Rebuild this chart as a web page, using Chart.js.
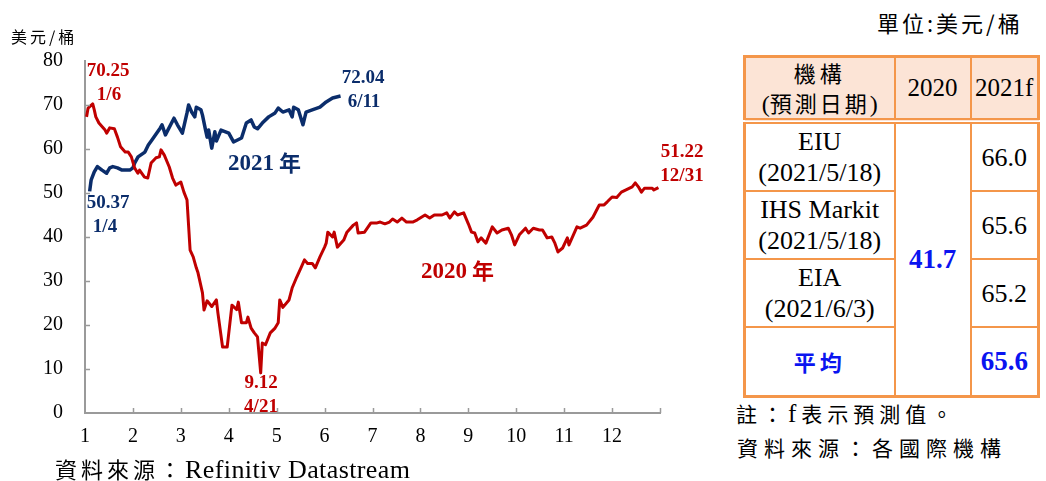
<!DOCTYPE html>
<html>
<head>
<meta charset="utf-8">
<script src="https://cdn.jsdelivr.net/npm/chart.js@4.4.1/dist/chart.umd.min.js"></script>
<style>
  html, body { margin: 0; padding: 0; background: #fff; }
  body { width: 1046px; height: 481px; position: relative; overflow: hidden; }
  #wrap { position: absolute; left: 0; top: 0; width: 720px; height: 481px; }
  .cjk { font-family: "Noto Sans CJK TC", "Noto Sans CJK SC", sans-serif; }
  #source { position: absolute; left: 55px; top: 453px; font-size: 22px; letter-spacing: 4px; white-space: nowrap; line-height: 30px; }
  #source span { font-family: "Liberation Serif", serif; font-size: 26px; letter-spacing: 0.4px; }
  #unit { position: absolute; left: 877px; top: 6px; font-size: 22px; letter-spacing: 3px; white-space: nowrap; }
  #note1 { position: absolute; left: 736px; top: 398px; font-size: 21px; letter-spacing: 5px; white-space: nowrap; }
  #note2 { position: absolute; left: 737px; top: 432px; font-size: 21px; letter-spacing: 6px; white-space: nowrap; }
  #note1 span { font-family: "Liberation Serif", serif; font-size: 25px; }
  table { position: absolute; left: 743px; top: 55px; border-collapse: collapse; border: 3px solid #F4964A; }
  td, th { border: 2px solid #F4964A; text-align: center; padding: 0; font-family: "Liberation Serif", serif; font-size: 26px; font-weight: normal; line-height: 31px; color: #000; }
  th { background: #FCE4D6; height: 56px; line-height: 28px; border-bottom: 6px double #F4964A; font-size: 25px; }
  tr.r td { height: 66px; }
  tr.avg td { height: 67px; }
  .blue { color: #0A14F0; font-weight: bold; }
</style>
</head>
<body>
<div id="wrap"><canvas id="chart" width="720" height="481"></canvas></div>
<div id="source" class="cjk">資料來源：<span>Refinitiv Datastream</span></div>
<div id="unit" class="cjk">單位:美元/桶</div>
<table>
  <colgroup><col style="width:150px"><col style="width:76px"><col style="width:68px"></colgroup>
  <tr><th><span class="cjk" style="font-size:22px;letter-spacing:4px">機構</span><br><span style="font-size:24px">(</span><span class="cjk" style="font-size:22px;letter-spacing:3px">預測日期</span><span style="font-size:24px">)</span></th><th>2020</th><th>2021f</th></tr>
  <tr class="r"><td>EIU<br>(2021/5/18)</td><td rowspan="4" class="blue" style="font-size:27px">41.7</td><td>66.0</td></tr>
  <tr class="r"><td>IHS Markit<br>(2021/5/18)</td><td>65.6</td></tr>
  <tr class="r"><td>EIA<br>(2021/6/3)</td><td>65.2</td></tr>
  <tr class="avg"><td class="blue cjk" style="font-size:22px;letter-spacing:4px">平均</td><td class="blue" style="font-size:27px">65.6</td></tr>
</table>
<div id="note1" class="cjk">註：<span>f</span>表示預測值。</div>
<div id="note2" class="cjk">資料來源：各國際機構</div>

<script>
// Brent daily price (USD/bbl)
const dates2020 = ["1/2","1/3","1/6","1/7","1/8","1/10","1/14","1/15","1/17","1/20","1/22","1/24","1/27","1/29","1/31",
  "2/2","2/4","2/5","2/8","2/10","2/12","2/15","2/17","2/18","2/20","2/23","2/25","2/27","3/1","3/3","3/5","3/7","3/9",
  "3/11","3/12","3/15","3/16","3/18","3/21","3/24","3/25","3/28","3/31","4/3","4/6","4/7","4/9","4/12","4/13","4/15",
  "4/17","4/19","4/21","4/22","4/24","4/27","4/30","5/2","5/3","5/5","5/9","5/11","5/14","5/17","5/19","5/21","5/24",
  "5/26","5/29","6/1","6/2","6/3","6/6","6/7","6/9","6/13","6/15","6/19","6/21","6/22","6/26","6/30","7/4","7/6","7/9",
  "7/12","7/14","7/17","7/20","7/23","7/27","7/30","8/4","8/7","8/10","8/15","8/18","8/20","8/23","8/25","8/29","9/1",
  "9/3","9/5","9/7","9/9","9/12","9/16","9/19","9/22","9/26","9/28","9/30","10/3","10/7","10/9","10/12","10/16","10/18",
  "10/21","10/24","10/26","10/28","10/31","11/3","11/4","11/9","11/11","11/15","11/19","11/22","11/23","11/26","11/28",
  "12/1","12/4","12/7","12/10","12/14","12/16","12/18","12/20","12/22","12/27","12/28","12/31"];
const prices2020 = [67.3,69.3,70.25,68.9,67.3,65.9,64.3,63.6,64.8,64.6,62.7,60.5,59.3,59.3,58.2,
  55.7,54.5,55.2,53.6,53.4,56.8,58.0,58.2,59.8,58.6,55.9,53.4,51.8,52.5,50.2,48.4,37.0,35.5,
  33.0,32.0,27.3,23.4,25.5,24.2,25.7,22.7,15.0,15.0,24.5,23.5,25.2,20.5,20.5,21.8,19.3,
  18.2,17.3,9.12,15.9,15.5,18.2,19.3,20.5,25.7,24.0,25.7,28.4,30.9,33.2,34.8,34.0,34.0,
  33.0,35.5,37.7,38.6,41.1,40.0,41.1,37.7,39.3,41.1,42.7,43.2,40.9,41.1,43.2,43.2,43.4,43.0,
  43.4,44.1,43.4,44.3,43.4,43.4,43.9,45.0,44.3,45.0,45.0,45.5,44.3,45.7,45.0,45.5,43.0,
  41.1,40.9,38.9,39.8,38.6,42.3,40.9,41.6,42.0,40.5,38.2,40.5,42.0,40.9,42.0,41.6,41.6,
  39.8,40.0,38.6,36.6,37.5,39.8,38.2,42.3,42.0,42.7,44.5,46.6,47.3,47.3,48.0,
  49.1,49.0,50.2,50.7,51.4,52.3,51.4,50.2,51.1,51.1,50.7,51.22];

const dates2021 = ["1/4","1/5","1/7","1/9","1/12","1/15","1/17","1/19","1/22","1/25","1/30","2/1","2/2","2/4","2/8",
  "2/10","2/12","2/17","2/18","2/20","2/25","2/27","3/2","3/5","3/6","3/8","3/10","3/11","3/14","3/15","3/17","3/18",
  "3/19","3/21","3/23","3/24","3/27","4/1","4/4","4/9","4/12","4/15","4/17","4/19","4/22","4/26","4/30","5/2","5/5",
  "5/9","5/11","5/12","5/15","5/18","5/20","5/24","5/29","6/2","6/6","6/11"];
const prices2021 = [50.37,53.0,54.8,56.0,55.2,54.5,55.7,56.0,55.7,55.2,55.2,55.7,56.8,58.2,59.3,
  60.9,62.0,64.8,65.5,63.2,67.0,65.5,63.6,68.2,70.0,68.4,67.3,69.5,68.9,67.7,64.3,62.7,
  64.3,60.2,63.9,61.8,64.3,63.6,61.6,62.5,65.9,66.6,65.0,64.6,65.9,67.3,68.2,69.3,68.4,
  68.9,67.3,69.5,68.9,65.5,68.4,68.9,69.5,70.7,71.6,72.04];

const monthTicks = [1,2,3,4,5,6,7,8,9,10,11,12,13];

const RED = "#C00000";
const BLUE = "#0B2D6B";
const AXIS = "#9A9A9A";
const SERIF = '"Liberation Serif", "Times New Roman", serif';
const CJK = '"Noto Sans CJK TC", "Noto Sans CJK SC", sans-serif';

// "m/d" -> fractional month position on the x axis
function toMonth(s, year) {
  const [m, d] = s.split("/").map(Number);
  const days = [31, year % 4 === 0 ? 29 : 28, 31, 30, 31, 30, 31, 31, 30, 31, 30, 31];
  return m + (d - 1) / days[m - 1];
}

const series2020 = dates2020.map((d, i) => ({ x: toMonth(d, 2020), y: prices2020[i] }));
const series2021 = dates2021.map((d, i) => ({ x: toMonth(d, 2021), y: prices2021[i] }));

// short tick marks pointing into the plot
const innerTicks = {
  id: "innerTicks",
  afterDraw(chart) {
    const { ctx, scales: { x, y }, chartArea } = chart;
    ctx.save();
    ctx.strokeStyle = AXIS;
    ctx.lineWidth = 1.5;
    ctx.beginPath();
    for (let v = 10; v < 80; v += 10) {
      const py = Math.round(y.getPixelForValue(v)) + 0.5;
      ctx.moveTo(chartArea.left, py);
      ctx.lineTo(chartArea.left + 5, py);
    }
    monthTicks.slice(1).forEach((m) => {
      const px = Math.round(x.getPixelForValue(m)) + 0.5;
      ctx.moveTo(px, chartArea.bottom);
      ctx.lineTo(px, chartArea.bottom - 5);
    });
    ctx.stroke();
    ctx.restore();
  },
};

// text notes on the chart
const notes = {
  id: "notes",
  afterDraw(chart) {
    const ctx = chart.ctx;
    ctx.save();
    ctx.textAlign = "center";
    ctx.textBaseline = "middle";
    const put = (t, px, py, color, font) => {
      ctx.fillStyle = color;
      ctx.font = font;
      ctx.fillText(t, px, py);
    };
    const num = "bold 19px " + SERIF;
    put("70.25", 108, 71, RED, num);
    put("1/6", 109, 95, RED, num);
    put("50.37", 108, 203, BLUE, num);
    put("1/4", 105, 227, BLUE, num);
    put("72.04", 363, 78, BLUE, num);
    put("6/11", 364, 102, BLUE, num);
    put("9.12", 261, 383, RED, num);
    put("4/21", 261, 407, RED, num);
    put("51.22", 682, 152, RED, num);
    put("12/31", 682, 176, RED, num);
    // year labels
    ctx.textAlign = "left";
    put("2021", 228, 164, BLUE, "bold 23px " + SERIF);
    put("年", 279, 163, BLUE, "bold 22px " + CJK);
    put("2020", 421, 272, RED, "bold 23px " + SERIF);
    put("年", 472, 271, RED, "bold 22px " + CJK);
    // unit title
    ctx.font = "16px " + CJK;
    ctx.fillStyle = "#000";
    ctx.letterSpacing = "3px";
    ctx.fillText("美元/桶", 11, 37);
    ctx.restore();
  },
};

new Chart(document.getElementById("chart"), {
  type: "line",
  data: {
    datasets: [
      { label: "2020年", data: series2020, borderColor: RED, borderWidth: 3 },
      { label: "2021年", data: series2021, borderColor: BLUE, borderWidth: 3.5 },
    ],
  },
  options: {
    responsive: false,
    animation: false,
    devicePixelRatio: 1,
    elements: { point: { radius: 0 }, line: { tension: 0, borderJoinStyle: "round" } },
    layout: { padding: { left: 0, right: 60, top: 61, bottom: 28 } },
    plugins: { legend: { display: false }, tooltip: { enabled: false } },
    scales: {
      x: {
        type: "linear",
        min: 1,
        max: 13,
        afterBuildTicks: (s) => { s.ticks = monthTicks.map((v) => ({ value: v })); },
        afterFit: (s) => { s.height = 40; },
        ticks: {
          callback: (v) => (v === 13 ? "" : v),
          font: { family: SERIF, size: 20 },
          color: "#000",
          padding: 12,
          maxRotation: 0,
        },
        grid: { display: false, drawTicks: false },
        border: { color: AXIS, width: 2 },
      },
      y: {
        min: 0,
        max: 80,
        afterFit: (s) => { s.width = 85; },
        ticks: { stepSize: 10, font: { family: SERIF, size: 20 }, color: "#000", padding: 22 },
        grid: { display: false, drawTicks: false },
        border: { color: AXIS, width: 2 },
      },
    },
  },
  plugins: [innerTicks, notes],
});
</script>
</body>
</html>
